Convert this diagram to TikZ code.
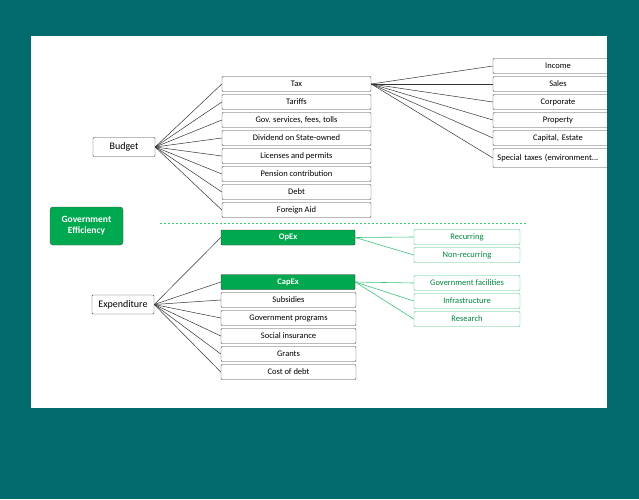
\documentclass[tikz,border=0pt]{standalone}
\usepackage{fontspec}
\setmainfont{Carlito}
\definecolor{bgteal}{HTML}{006A6D}
\definecolor{effgreen}{HTML}{00A94F}
\definecolor{lightgreen}{HTML}{3CC47A}
\tikzset{
  item/.style={draw=black!75,rounded corners=1pt,minimum height=15pt,inner sep=0pt,font=\fontsize{8.5}{9}\selectfont},
  mid/.style={item,minimum width=149pt},
  sub/.style={item,minimum width=130pt,text width=124pt,align=left},
  topbox/.style={item,minimum width=62pt,minimum height=19pt,font=\fontsize{10}{11}\selectfont},
  hot/.style={mid,minimum width=134pt,fill=effgreen,text=white,draw=black!80,font=\fontsize{8.5}{9}\selectfont\bfseries},
  soft/.style={item,minimum width=106pt,draw=lightgreen,text=effgreen!80!black},
  link/.style={draw=black!80,line width=0.5pt},
  glink/.style={draw=lightgreen,line width=0.6pt}
}
\begin{document}
\begin{tikzpicture}[x=1pt,y=-1pt]
\fill[bgteal] (0,0) rectangle (639,499);
\fill[white] (31,36) rectangle (607,408);
\useasboundingbox (0,0) rectangle (639,499);
\begin{scope}
\clip (31,36) rectangle (607,408);
% budget side
\node[topbox] (budget) at (124,147) {Budget};
\foreach \name/\txt [count=\i from 0] in {tax/Tax,tariffs/Tariffs,fees/{Gov. services, fees, tolls},dividend/Dividend on State-owned,licenses/Licenses and permits,pension/Pension contribution,debt/Debt,aid/Foreign Aid}{
  \node[mid] (\name) at (296.5,84+18*\i) {\txt};
  \draw[link] (budget.east) -- (\name.west);
}
\foreach \name/\txt [count=\i from 0] in {income/Income,sales/Sales,corporate/Corporate,property/Property,capital/{Capital, Estate}}{
  \node[sub,align=center] (\name) at (558,66+18*\i) {\txt};
  \draw[link] (tax.east) -- (\name.west);
}
\node[sub,minimum height=19pt] (special) at (558,158) {\,Special taxes (environment...};
\draw[link] (tax.east) -- (special.west);
% efficiency label and divider
\node[item,fill=effgreen,draw=black!70,rounded corners=3pt,minimum width=73pt,minimum height=38pt,text=white,align=center,font=\fontsize{9.5}{11}\selectfont\bfseries] (eff) at (86.5,226) {Government\\Efficiency};
\draw[lightgreen,dashed,dash pattern=on 2pt off 2pt] (160,223) -- (527,223);
% expenditure side
\node[topbox] (expend) at (123,304.5) {Expenditure};
\node[hot] (opex) at (288,237.5) {OpEx};
\node[hot] (capex) at (288,282) {CapEx};
\draw[link] (expend.east) -- (opex.west);
\draw[link] (expend.east) -- (capex.west);
\foreach \name/\txt [count=\i from 1] in {subsidies/Subsidies,programs/Government programs,insurance/Social insurance,grants/Grants,costdebt/Cost of debt}{
  \node[mid,minimum width=135pt] (\name) at (288.5,282+18*\i) {\txt};
  \draw[link] (expend.east) -- (\name.west);
}
\foreach \name/\txt [count=\i from 0] in {recurring/Recurring,nonrec/Non-recurring}{
  \node[soft] (\name) at (467,237+18*\i) {\txt};
  \draw[glink] (opex.east) -- (\name.west);
}
\foreach \name/\txt [count=\i from 0] in {facilities/Government facilities,infra/Infrastructure,research/Research}{
  \node[soft] (\name) at (467,283+18*\i) {\txt};
  \draw[glink] (capex.east) -- (\name.west);
}
\end{scope}
\end{tikzpicture}
\end{document}
